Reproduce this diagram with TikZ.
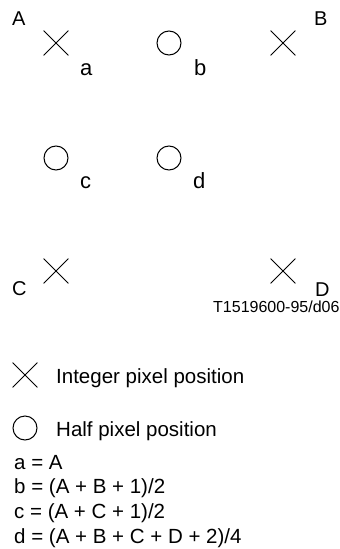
\documentclass[tikz,border=0pt]{standalone}
\usepackage{fontspec}
\setmainfont{Liberation Sans}
\usetikzlibrary{shapes.misc}

\begin{document}
\begin{tikzpicture}[x=1pt,y=-1pt]
		\tikzset{intpel/.style={draw,cross out,minimum size=24pt,inner sep=0pt,line width=0.8pt},
			halfpel/.style={draw,circle,minimum size=24pt,inner sep=0pt,line width=1pt},
			corner/.style={anchor=base west,inner sep=0pt,font=\fontsize{20}{24}\selectfont},
			sublabel/.style={anchor=base west,inner sep=0pt,font=\fontsize{22}{26}\selectfont},
			legend/.style={anchor=base west,inner sep=0pt,font=\fontsize{20.5}{24.7}\selectfont}};
		\useasboundingbox (0,0) rectangle (340,549);
		% integer and half pixel positions
		\node[intpel] (pA) at (56,43) {};
		\node[halfpel] (pb) at (169,43) {};
		\node[intpel] (pB) at (283,43) {};
		\node[halfpel] (pc) at (56,158) {};
		\node[halfpel] (pd) at (169,158) {};
		\node[intpel] (pC) at (56,271) {};
		\node[intpel] (pD) at (283,271) {};
		\node[corner] (lA) at (12,25) {A};
		\node[corner] (lB) at (314,25) {B};
		\node[corner] (lC) at (12,295) {C};
		\node[corner] (lD) at (315,296) {D};
		\node[sublabel] (la) at (80,75) {a};
		\node[sublabel] (lb) at (194,75) {b};
		\node[sublabel] (lc) at (80,188) {c};
		\node[sublabel] (ld) at (193,188) {d};
		\node[anchor=base west,inner sep=0pt,font=\fontsize{16}{19}\selectfont] (code) at (213,312) {T1519600-95/d06};
		% legend
		\node[intpel] (keyint) at (25,375) {};
		\node[legend] (keyinttext) at (56,383) {Integer pixel position};
		\node[halfpel] (keyhalf) at (25,428) {};
		\node[legend] (keyhalftext) at (56,436) {Half pixel position};
		\node[legend] (fa) at (14,469) {a = A};
		\node[legend] (fb) at (14,493.7) {b = (A + B + 1)/2};
		\node[legend] (fc) at (14,518.4) {c = (A + C + 1)/2};
		\node[legend] (fd) at (14,543) {d = (A + B + C + D + 2)/4};
	\end{tikzpicture}
\end{document}
